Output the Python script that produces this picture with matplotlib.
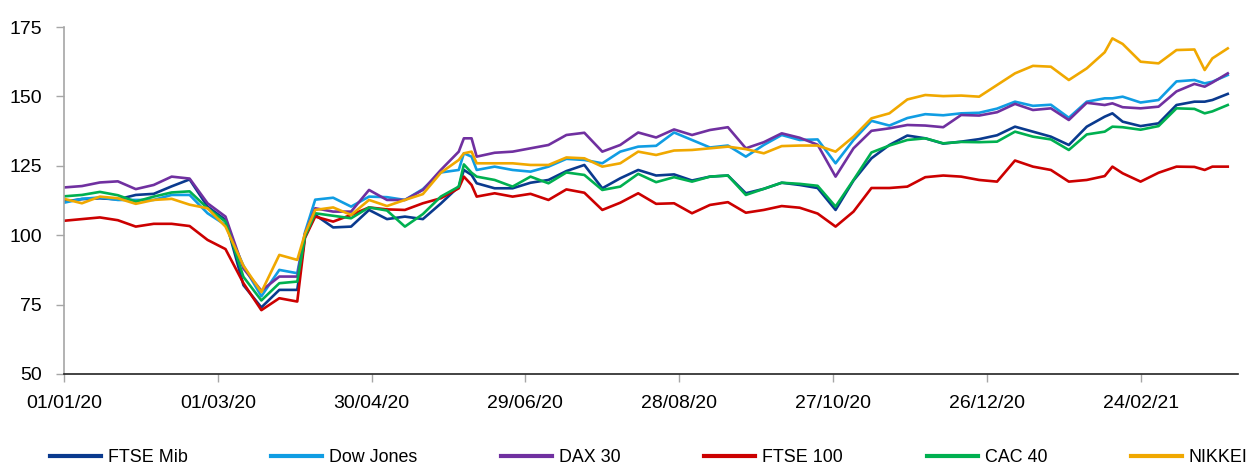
import matplotlib
matplotlib.use("Agg")
import matplotlib.pyplot as plt
import matplotlib.dates as mdates
import pandas as pd

plt.rcParams['font.family'] = ['Liberation Sans', 'DejaVu Sans']

# weekly observation dates
dates = list(pd.date_range('2020-01-01', periods=65, freq='7D')) + [pd.Timestamp('2021-03-30')]

ftse_mib = [112.1, 113.0, 113.3, 112.9, 114.5, 114.9, 117.6, 120.1, 110.3, 105.5,
            82.0, 74.0, 80.3, 80.3, 107.3, 102.8, 103.1, 109.1, 105.8, 106.7,
            105.8, 111.4, 117.5, 118.7, 116.9, 116.9, 118.9, 119.9, 123.1, 125.3,
            116.9, 120.5, 123.5, 121.5, 121.9, 119.7, 121.1, 121.5, 115.1, 116.7,
            118.9, 118.1, 117.0, 109.1, 119.7, 127.7, 132.5, 135.9, 134.9, 133.0,
            133.7, 134.6, 136.0, 139.1, 137.3, 135.5, 132.5, 139.1, 142.7, 140.9,
            139.3, 140.3, 146.9, 148.1, 148.7, 150.9]

dow_jones = [111.7, 113.1, 113.6, 112.7, 112.7, 112.7, 114.5, 114.5, 107.9, 103.7,
             89.0, 78.0, 87.5, 86.3, 112.8, 113.5, 110.3, 113.9, 113.7, 112.7,
             116.6, 122.6, 123.5, 123.5, 124.7, 123.5, 122.9, 124.7, 127.5, 127.1,
             125.9, 130.1, 131.9, 132.2, 137.0, 134.3, 131.6, 132.3, 128.3, 132.5,
             136.1, 134.3, 134.5, 125.9, 134.3, 141.2, 139.5, 142.2, 143.6, 143.2,
             143.9, 144.1, 145.6, 148.1, 146.6, 147.0, 142.3, 148.1, 149.3, 149.9,
             147.8, 148.7, 155.4, 155.9, 155.3, 157.7]

dax_30 = [117.2, 117.7, 119.0, 119.4, 116.6, 118.1, 121.1, 120.4, 111.5, 106.7,
          88.0, 80.0, 85.1, 85.1, 109.7, 108.5, 108.5, 116.3, 112.7, 112.7,
          116.3, 123.5, 130.1, 128.3, 129.7, 130.1, 131.3, 132.5, 136.1, 136.9,
          130.1, 132.5, 137.0, 135.2, 138.1, 136.1, 137.9, 138.9, 131.3, 133.5,
          136.7, 135.1, 132.6, 121.1, 131.3, 137.6, 138.5, 139.7, 139.5, 138.9,
          143.3, 143.1, 144.3, 147.3, 145.1, 145.7, 141.5, 147.7, 146.9, 146.1,
          145.7, 146.3, 151.8, 154.5, 155.0, 158.3]

ftse_100 = [105.2, 105.8, 106.4, 105.4, 103.1, 104.1, 104.1, 103.3, 98.3, 95.0,
            82.7, 73.0, 77.3, 76.1, 106.7, 104.9, 107.3, 110.0, 109.3, 109.1,
            111.5, 113.3, 116.9, 113.9, 115.1, 113.9, 114.9, 112.7, 116.5, 115.3,
            109.1, 111.7, 115.1, 111.3, 111.5, 107.9, 110.9, 111.9, 108.1, 109.1,
            110.5, 109.9, 107.8, 103.1, 108.5, 117.0, 117.0, 117.5, 120.9, 121.5,
            121.1, 119.9, 119.3, 126.9, 124.7, 123.5, 119.3, 119.9, 121.3, 122.3,
            119.3, 122.5, 124.7, 124.6, 124.7, 124.7]

cac_40 = [114.0, 114.5, 115.6, 114.4, 112.1, 113.9, 115.4, 115.8, 109.7, 104.9,
          85.0, 76.5, 82.7, 83.3, 107.9, 107.0, 106.1, 110.0, 108.9, 103.1,
          107.6, 113.9, 117.5, 121.1, 119.9, 117.5, 121.1, 118.7, 122.6, 121.7,
          116.3, 117.5, 122.1, 119.1, 120.9, 119.3, 121.1, 121.5, 114.5, 116.7,
          118.9, 118.5, 117.8, 110.3, 119.9, 129.8, 132.3, 134.3, 134.9, 133.1,
          133.6, 133.5, 133.7, 137.3, 135.5, 134.5, 130.7, 136.3, 137.3, 138.9,
          138.0, 139.3, 145.7, 145.5, 144.6, 146.9]

nikkei = [113.1, 111.5, 113.9, 113.3, 111.3, 112.7, 113.1, 111.0, 109.7, 103.1,
          89.0, 79.5, 92.9, 91.1, 109.1, 110.0, 107.3, 112.7, 110.5, 112.7,
          114.8, 122.5, 127.1, 125.9, 125.9, 125.9, 125.3, 125.3, 128.0, 127.7,
          124.7, 125.9, 130.1, 128.9, 130.5, 130.7, 131.3, 131.9, 131.0, 129.5,
          132.1, 132.3, 132.3, 130.1, 135.5, 142.1, 143.9, 148.9, 150.5, 150.1,
          150.3, 149.9, 154.1, 158.3, 161.0, 160.7, 155.9, 160.1, 165.9, 168.9,
          162.5, 161.9, 166.7, 166.9, 163.7, 167.3]

# extra readings at turning points between the weekly dates
extra_dates = ['2020-04-04', '2020-06-05', '2020-06-08', '2021-02-13', '2021-03-21']
extra_ftse_mib = [99.5, 123.5, 121.7, 143.9, 148.1]
extra_dow_jones = [101.0, 129.5, 128.3, 149.3, 154.7]
extra_dax_30 = [100.5, 134.9, 134.9, 147.5, 153.5]
extra_ftse_100 = [99.0, 121.1, 118.1, 124.7, 123.5]
extra_cac_40 = [99.5, 125.5, 122.5, 139.1, 143.9]
extra_nikkei = [100.5, 129.5, 130.1, 170.9, 159.5]

series_names = ['FTSE Mib', 'Dow Jones', 'DAX 30', 'FTSE 100', 'CAC 40', 'NIKKEI']
series_values = [ftse_mib, dow_jones, dax_30, ftse_100, cac_40, nikkei]
extra_values = [extra_ftse_mib, extra_dow_jones, extra_dax_30, extra_ftse_100,
                extra_cac_40, extra_nikkei]
colors = ['#0A3A8E', '#109DE3', '#7030A0', '#CC0000', '#00B050', '#F0A800']

y_ticks = [50, 75, 100, 125, 150, 175]
x_ticks = list(pd.date_range('2020-01-01', periods=8, freq='60D'))

all_dates = pd.DatetimeIndex(dates).append(pd.to_datetime(extra_dates))
df = pd.DataFrame({name: list(v) + list(e) for name, v, e in
                   zip(series_names, series_values, extra_values)}, index=all_dates)
df = df.sort_index()

fig = plt.figure(figsize=(12.5, 4.68), dpi=100)
ax = fig.add_axes([64 / 1250, 1 - 374 / 468, (1238 - 64) / 1250, (374 - 27) / 468])

for name, col in zip(series_names, colors):
    ax.plot(df.index, df[name], color=col, lw=1.9, label=name, solid_joinstyle='round')

ax.set_ylim(50, 175)
ax.set_xlim(pd.Timestamp('2020-01-01'), pd.Timestamp('2021-04-03'))
ax.set_yticks(y_ticks)
ax.set_xticks(x_ticks)
ax.xaxis.set_major_formatter(mdates.DateFormatter('%d/%m/%y'))

for s in ['top', 'right']:
    ax.spines[s].set_visible(False)
ax.spines['left'].set_color('#A6A6A6')
ax.spines['left'].set_linewidth(1.2)
ax.spines['bottom'].set_color('#222222')
ax.spines['bottom'].set_linewidth(1.2)

ax.tick_params(axis='y', direction='out', length=6, width=1, color='#A6A6A6',
               labelsize=14, pad=10, labelcolor='black')
ax.tick_params(axis='x', direction='out', length=6, width=1, color='#A6A6A6',
               labelsize=14, pad=9, labelcolor='black')

handles, labels = ax.get_legend_handles_labels()
leg = fig.legend(handles, labels, loc='center left',
                 bbox_to_anchor=(50 / 1250, 1 - 458 / 468), bbox_transform=fig.transFigure,
                 ncol=6, frameon=False, fontsize=12.9, handlelength=2.85,
                 handletextpad=0.38, columnspacing=4.67, borderpad=0, borderaxespad=0)
for line in leg.get_lines():
    line.set_linewidth(3)

fig.savefig('out.png', dpi=100)
